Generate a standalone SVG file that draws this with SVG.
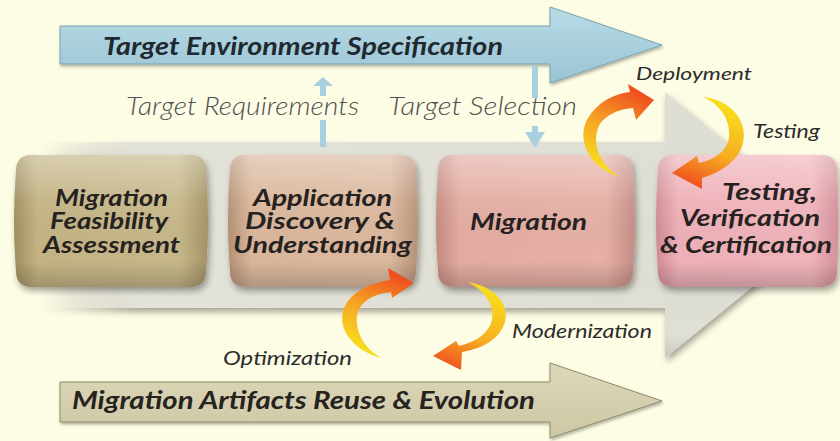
<svg xmlns="http://www.w3.org/2000/svg" width="840" height="441" viewBox="0 0 840 441">
<defs>
<style>
.nt{font-family:Lato,"Open Sans","DejaVu Sans",sans-serif;font-weight:700;font-style:italic;font-size:23px;fill:#26221f}
.bt{font-family:Lato,"Open Sans","DejaVu Sans",sans-serif;font-weight:700;font-style:italic;font-size:25px;fill:#1f2a30}
.lb{font-family:Lato,"Open Sans","DejaVu Sans",sans-serif;font-style:italic;font-weight:400;fill:#2b2b2b}
.lt{font-family:Lato,"Open Sans","DejaVu Sans",sans-serif;font-style:italic;font-weight:300;font-size:26px;fill:#505050}
.gloss{fill:url(#gloss)}
.orng{stroke:none}
</style>
<filter id="sh" x="-10%" y="-10%" width="125%" height="135%">
<feDropShadow dx="2" dy="4" stdDeviation="3" flood-color="#000" flood-opacity="0.35"/>
</filter>
<filter id="shs" x="-10%" y="-10%" width="125%" height="135%">
<feDropShadow dx="1" dy="2" stdDeviation="1.5" flood-color="#000" flood-opacity="0.3"/>
</filter>
<linearGradient id="band" x1="0" y1="0" x2="1" y2="0">
<stop offset="0" stop-color="#e3e2d8" stop-opacity="0"/>
<stop offset="0.12" stop-color="#e3e2d8" stop-opacity="1"/>
<stop offset="1" stop-color="#deddd3"/>
</linearGradient>
<linearGradient id="bandv" x1="0" y1="0" x2="0" y2="1">
<stop offset="0" stop-color="#fff" stop-opacity="0"/>
<stop offset="0.85" stop-color="#fff" stop-opacity="0"/>
<stop offset="1" stop-color="#a9a89e" stop-opacity="0.5"/>
</linearGradient>
<linearGradient id="blue" x1="0" y1="0" x2="0" y2="1">
<stop offset="0" stop-color="#b9dbe6"/>
<stop offset="1" stop-color="#9ac4d4"/>
</linearGradient>
<linearGradient id="tan" x1="0" y1="0" x2="0" y2="1">
<stop offset="0" stop-color="#ddd8b9"/>
<stop offset="1" stop-color="#cdc7a5"/>
</linearGradient>
<linearGradient id="gloss" x1="0" y1="0" x2="0" y2="1">
<stop offset="0" stop-color="#fff" stop-opacity="0.35"/>
<stop offset="0.35" stop-color="#fff" stop-opacity="0.05"/>
<stop offset="0.8" stop-color="#000" stop-opacity="0"/>
<stop offset="1" stop-color="#000" stop-opacity="0.18"/>
</linearGradient>
<linearGradient id="g1" x1="0" y1="0" x2="1" y2="0">
<stop offset="0" stop-color="#9f8f60"/>
<stop offset="0.12" stop-color="#c3b384"/>
<stop offset="0.85" stop-color="#c7b88a"/>
<stop offset="1" stop-color="#a39365"/>
</linearGradient>
<linearGradient id="g2" x1="0" y1="0" x2="1" y2="0">
<stop offset="0" stop-color="#b48f74"/>
<stop offset="0.12" stop-color="#d9b69b"/>
<stop offset="0.85" stop-color="#dbb99f"/>
<stop offset="1" stop-color="#b8937a"/>
</linearGradient>
<linearGradient id="g3" x1="0" y1="0" x2="1" y2="0">
<stop offset="0" stop-color="#c38a80"/>
<stop offset="0.12" stop-color="#e3aca1"/>
<stop offset="0.85" stop-color="#e6b0a6"/>
<stop offset="1" stop-color="#c58e85"/>
</linearGradient>
<linearGradient id="g4" x1="0" y1="0" x2="1" y2="0">
<stop offset="0" stop-color="#d08b94"/>
<stop offset="0.12" stop-color="#eeb0b8"/>
<stop offset="0.85" stop-color="#f0b4bb"/>
<stop offset="1" stop-color="#d4919a"/>
</linearGradient>
<linearGradient id="oa" gradientUnits="userSpaceOnUse" x1="620" y1="176" x2="654" y2="100">
<stop offset="0" stop-color="#f8dc1e"/>
<stop offset="0.5" stop-color="#f6a324"/>
<stop offset="1" stop-color="#ef4f1e"/>
</linearGradient>
<linearGradient id="ob" gradientUnits="userSpaceOnUse" x1="703" y1="97" x2="672" y2="178">
<stop offset="0" stop-color="#f8dc1e"/>
<stop offset="0.55" stop-color="#f6ad22"/>
<stop offset="1" stop-color="#ef4f1e"/>
</linearGradient>
<linearGradient id="oc" gradientUnits="userSpaceOnUse" x1="382" y1="358" x2="414" y2="283">
<stop offset="0" stop-color="#f8dc1e"/>
<stop offset="0.5" stop-color="#f6a324"/>
<stop offset="1" stop-color="#ef4f1e"/>
</linearGradient>
<linearGradient id="od" gradientUnits="userSpaceOnUse" x1="467" y1="282" x2="433" y2="362">
<stop offset="0" stop-color="#f8dc1e"/>
<stop offset="0.55" stop-color="#f6ad22"/>
<stop offset="1" stop-color="#ef4f1e"/>
</linearGradient>
</defs>

<rect x="0" y="0" width="840" height="441" fill="#fdfce4"/>

<g id="flow-band">
<path d="M40,142 H665 V92 L828,225 L665,358 V308 H40 Z" fill="url(#band)" filter="url(#sh)"/>
<path d="M40,142 H665 V92 L828,225 L665,358 V308 H40 Z" fill="url(#bandv)"/>
</g>

<g id="target-env">
<path d="M60,26 H550 V7 L662,45 L550,83 V64 H60 Z" fill="url(#blue)" stroke="#7aa3b1" stroke-width="1" filter="url(#shs)"/>
<text class="bt" x="103" y="55" textLength="400" lengthAdjust="spacingAndGlyphs">Target Environment Specification</text>
</g>

<g id="artifacts">
<path d="M60,382 H550 V363 L662,401 L550,438 V422 H60 Z" fill="url(#tan)" stroke="#8e896b" stroke-width="1" filter="url(#shs)"/>
<text class="bt" x="72" y="409" textLength="463" lengthAdjust="spacingAndGlyphs" style="fill:#26231f">Migration Artifacts Reuse &amp; Evolution</text>
</g>

<g id="connectors">
<g id="req-arrow" fill="#a9d0e0">
<polygon points="323,77 333,86 326,86 326,96 320,96 320,86 313,86"/>
<rect x="320" y="120" width="6" height="27"/>
</g>
<g id="sel-arrow" fill="#a9d0e0">
<rect x="532" y="66" width="6" height="32"/>
<polygon points="532,126 538,126 538,132 545,132 535,148 525,132 532,132"/>
</g>
</g>

<g id="node-feasibility">
<path d="M32,155 H190 Q206,155 206,171 Q210,221 206,271 Q206,287 190,287 H32 Q16,287 16,271 Q12,221 16,171 Q16,155 32,155 Z" fill="url(#g1)" filter="url(#sh)"/>
<path d="M32,155 H190 Q206,155 206,171 Q210,221 206,271 Q206,287 190,287 H32 Q16,287 16,271 Q12,221 16,171 Q16,155 32,155 Z" class="gloss"/>
<text class="nt" x="55" y="206" textLength="113" lengthAdjust="spacingAndGlyphs">Migration</text>
<text class="nt" x="50" y="229" textLength="118" lengthAdjust="spacingAndGlyphs">Feasibility</text>
<text class="nt" x="43" y="253" textLength="137" lengthAdjust="spacingAndGlyphs">Assessment</text>
</g>

<g id="node-discovery">
<path d="M246,155 H400 Q416,155 416,171 Q420,221 416,271 Q416,287 400,287 H246 Q230,287 230,271 Q226,221 230,171 Q230,155 246,155 Z" fill="url(#g2)" filter="url(#sh)"/>
<path d="M246,155 H400 Q416,155 416,171 Q420,221 416,271 Q416,287 400,287 H246 Q230,287 230,271 Q226,221 230,171 Q230,155 246,155 Z" class="gloss"/>
<text class="nt" x="253" y="206" textLength="139" lengthAdjust="spacingAndGlyphs">Application</text>
<text class="nt" x="245" y="229" textLength="150" lengthAdjust="spacingAndGlyphs">Discovery &amp;</text>
<text class="nt" x="233" y="253" textLength="179" lengthAdjust="spacingAndGlyphs">Understanding</text>
</g>

<g id="node-migration">
<path d="M454,155 H617 Q633,155 633,171 Q637,221 633,271 Q633,287 617,287 H454 Q438,287 438,271 Q434,221 438,171 Q438,155 454,155 Z" fill="url(#g3)" filter="url(#sh)"/>
<path d="M454,155 H617 Q633,155 633,171 Q637,221 633,271 Q633,287 617,287 H454 Q438,287 438,271 Q434,221 438,171 Q438,155 454,155 Z" class="gloss"/>
<text class="nt" x="470" y="230" textLength="117" lengthAdjust="spacingAndGlyphs">Migration</text>
</g>

<g id="node-testing">
<path d="M674,155 H821 Q837,155 837,171 Q840,221 837,271 Q837,287 821,287 H674 Q658,287 658,271 Q654,221 658,171 Q658,155 674,155 Z" fill="url(#g4)" filter="url(#sh)"/>
<path d="M674,155 H821 Q837,155 837,171 Q840,221 837,271 Q837,287 821,287 H674 Q658,287 658,271 Q654,221 658,171 Q658,155 674,155 Z" class="gloss"/>
<text class="nt" x="722" y="200" textLength="95" lengthAdjust="spacingAndGlyphs">Testing,</text>
<text class="nt" x="680" y="226" textLength="140" lengthAdjust="spacingAndGlyphs">Verification</text>
<text class="nt" x="660" y="253" textLength="172" lengthAdjust="spacingAndGlyphs">&amp; Certification</text>
</g>

<g id="loops">
<path id="deploy-arrow" class="orng" fill="url(#oa)" d="M620,177 C590,168 575,140 588,118 C598,102 613,94 630,92 L628,84 L654,100 L636,120 L633,108 C618,109 603,116 598,128 C592,145 600,165 620,177 Z"/>
<path id="testing-arrow" class="orng" fill="url(#ob)" d="M703,97 C732,100 748,122 743,143 C739,160 722,172 702,178 L702,189 L672,173 L697,156 L699,163 C715,160 727,150 729,138 C731,120 720,104 703,97 Z"/>
<path id="optim-arrow" class="orng" fill="url(#oc)" d="M382,358 C355,352 338,330 343,312 C347,296 362,285 390,280 L388,268 L414,283 L392,298 L391,292 C372,294 360,302 357,315 C355,332 365,350 382,358 Z"/>
<path id="modern-arrow" class="orng" fill="url(#od)" d="M467,282 C495,286 510,305 505,322 C500,338 485,348 462,352 L461,370 L433,356 L456,341 L459,346 C476,342 489,333 492,320 C495,305 485,290 467,282 Z"/>
</g>

<g id="labels">
<text class="lt" x="126" y="115" textLength="233" lengthAdjust="spacingAndGlyphs">Target Requirements</text>
<text class="lt" x="388" y="115" textLength="189" lengthAdjust="spacingAndGlyphs">Target Selection</text>
<text class="lb" x="636" y="80" font-size="18" textLength="116" lengthAdjust="spacingAndGlyphs">Deployment</text>
<text class="lb" x="753" y="138" font-size="19" textLength="67" lengthAdjust="spacingAndGlyphs">Testing</text>
<text class="lb" x="512" y="338" font-size="19" textLength="140" lengthAdjust="spacingAndGlyphs">Modernization</text>
<text class="lb" x="223" y="365" font-size="19" textLength="129" lengthAdjust="spacingAndGlyphs">Optimization</text>
</g>
</svg>
